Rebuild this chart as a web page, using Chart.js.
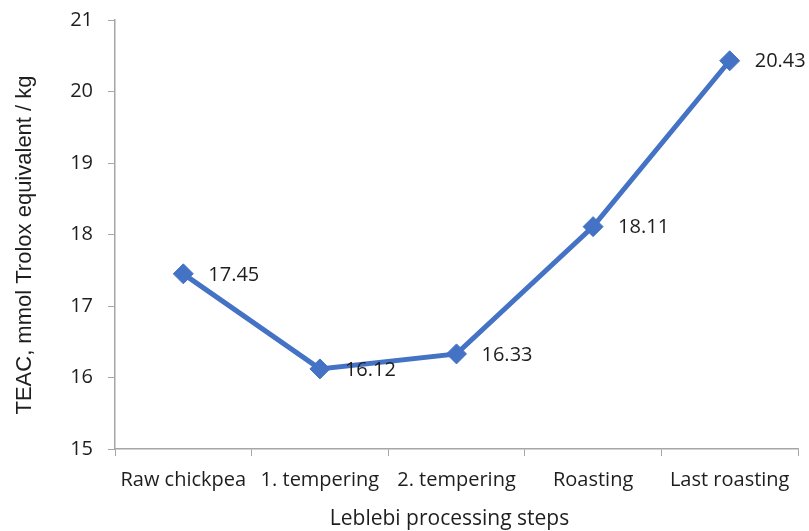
<!DOCTYPE html>
<html>
<head>
<meta charset="utf-8">
<script src="https://cdn.jsdelivr.net/npm/chart.js@4/dist/chart.umd.min.js"></script>
<style>
  html, body { margin: 0; padding: 0; background: #ffffff; }
  #wrap { width: 809px; height: 531px; }
</style>
</head>
<body>
<div id="wrap"><canvas id="c" width="809" height="531"></canvas></div>
<script>
// Processing steps and antioxidant capacity values
const categories = ['Raw chickpea', '1. tempering', '2. tempering', 'Roasting', 'Last roasting'];
const teacValues = [17.45, 16.12, 16.33, 18.11, 20.43];
const yTicks = [15, 16, 17, 18, 19, 20, 21];
const xTitle = 'Leblebi processing steps';
const yTitle = 'TEAC, mmol Trolox equivalent / kg';

const FONT = "'Open Sans', 'Liberation Sans', sans-serif";
const TITLE_Y_FONT = "'Liberation Sans', Arial, sans-serif";
const AXIS_GREY = '#a6a6a6';
const TEXT = '#1e1e1e';

// Value labels to the right of each marker, plus the two axis titles
const annotations = {
  id: 'annotations',
  afterDatasetsDraw(chart) {
    const ctx = chart.ctx;
    const meta = chart.getDatasetMeta(0);
    ctx.save();
    ctx.font = '20px ' + FONT;
    ctx.fillStyle = TEXT;
    ctx.textAlign = 'left';
    ctx.textBaseline = 'middle';
    meta.data.forEach((pt, i) => {
      ctx.fillText(teacValues[i].toFixed(2), pt.x + 25, pt.y + 1);
    });

    // horizontal axis title, centred under the figure
    ctx.font = '21px ' + FONT;
    ctx.textAlign = 'center';
    ctx.textBaseline = 'alphabetic';
    ctx.fillText(xTitle, chart.width / 2 + 45, 525);

    // vertical axis title, reading bottom to top
    ctx.translate(31, 245);
    ctx.rotate(-Math.PI / 2);
    ctx.font = '22px ' + TITLE_Y_FONT;
    ctx.fillText(yTitle, 0, 0);
    ctx.restore();
  }
};

new Chart(document.getElementById('c'), {
  type: 'line',
  data: {
    labels: categories,
    datasets: [{
      data: teacValues,
      borderColor: '#4472c4',
      backgroundColor: '#4472c4',
      borderWidth: 5,
      pointStyle: 'rectRot',
      pointRadius: 10,
      pointBorderWidth: 1,
      pointBackgroundColor: '#4472c4',
      pointBorderColor: '#4472c4',
      tension: 0,
      clip: false
    }]
  },
  options: {
    responsive: false,
    animation: false,
    layout: { padding: { top: 0, right: 9, bottom: 0, left: 0 } },
    plugins: {
      legend: { display: false },
      tooltip: { enabled: false }
    },
    scales: {
      x: {
        type: 'category',
        offset: true,
        grid: {
          offset: true,
          drawOnChartArea: false,
          drawTicks: true,
          tickLength: 7,
          color: AXIS_GREY,
          lineWidth: 1
        },
        border: { display: true, color: AXIS_GREY, width: 1.5 },
        ticks: {
          color: TEXT,
          font: { family: FONT, size: 20 },
          padding: 12,
          maxRotation: 0,
          autoSkip: false
        },
        title: { display: false },
        afterFit(scale) { scale.height = 82; }
      },
      y: {
        min: 15,
        max: 21,
        afterBuildTicks(scale) { scale.ticks = yTicks.map(v => ({ value: v })); },
        grid: {
          drawOnChartArea: false,
          drawTicks: true,
          tickLength: 7,
          color: AXIS_GREY,
          lineWidth: 1
        },
        border: { display: true, color: AXIS_GREY, width: 1.5 },
        ticks: {
          color: TEXT,
          font: { family: FONT, size: 20, lineHeight: 0.5 },
          padding: 15
        },
        title: { display: false },
        afterFit(scale) { scale.width = 115; }
      }
    }
  },
  plugins: [annotations]
});
</script>
</body>
</html>
